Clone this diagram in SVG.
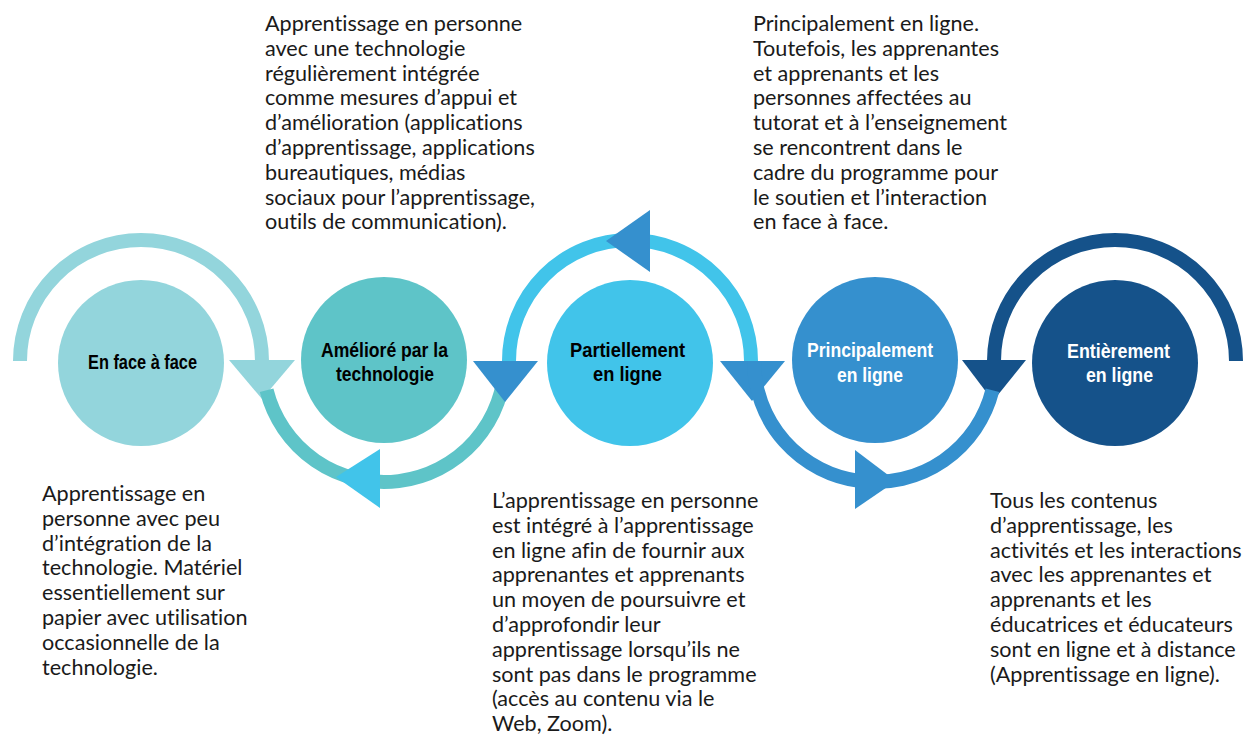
<svg xmlns="http://www.w3.org/2000/svg" width="1244" height="739" viewBox="0 0 1244 739">
<style>
.arc{fill:none;stroke-width:14;stroke-linecap:butt}
.lbl{font-family:"Liberation Sans",Arial,sans-serif;font-weight:bold;font-size:21px;text-anchor:middle}
.dark{fill:#000}
.light{fill:#fff}
.body{font-family:Lato,"Liberation Sans",sans-serif;font-size:21.6px;fill:#1a1a1a;font-variant-ligatures:none;font-feature-settings:"liga" 0,"clig" 0,"dlig" 0}
.c1{fill:#93D5DC}.c2{fill:#5EC4C8}.c3{fill:#41C4EA}.c4{fill:#3590CE}.c5{fill:#15528A}
.s1{stroke:#93D5DC}.s2{stroke:#5EC4C8}.s3{stroke:#41C4EA}.s4{stroke:#3590CE}.s5{stroke:#15528A}
</style>
<rect width="1244" height="739" fill="#fff"/>
<g id="connectors">
<path class="arc s1" d="M 20 361 A 121 121 0 0 1 262 361"/>
<polygon class="c1" points="229,360 295,360 262,399"/>
<path class="arc s2" d="M 266.6 390.3 A 121 121 0 0 0 505 361"/>
<path class="arc s3" d="M 509 361 A 121 121 0 0 1 751 361"/>
<path class="arc s5" d="M 994 361 A 121 121 0 0 1 1236 361"/>
<polygon class="c3" points="380,449 380,508 336,477"/>
<polygon class="c4" points="473,361 538,361 505,402"/>
<polygon class="c4" points="650,210 650,272 606,241"/>
<polygon class="c4" points="720,361 785,361 752,401"/>
<polygon class="c5" points="962,360 1026,360 993,401"/>
<path class="arc s4" d="M 754 361 A 121 121 0 0 0 992.4 390.3"/>
<polygon class="c4" points="855,450 855,509 896,481"/>
</g>
<g id="node-face">
<circle class="c1" cx="141" cy="363" r="83"/>
<text class="lbl dark" x="142.5" y="369" textLength="109" lengthAdjust="spacingAndGlyphs">En face à face</text>
</g>
<g id="node-ameliore">
<circle class="c2" cx="384" cy="360" r="83"/>
<text class="lbl dark" x="384.5" y="357" textLength="127" lengthAdjust="spacingAndGlyphs">Amélioré par la</text>
<text class="lbl dark" x="385" y="381" textLength="98" lengthAdjust="spacingAndGlyphs">technologie</text>
</g>
<g id="node-partiel">
<circle class="c3" cx="630" cy="363" r="83"/>
<text class="lbl dark" x="627.5" y="357" textLength="115" lengthAdjust="spacingAndGlyphs">Partiellement</text>
<text class="lbl dark" x="627.5" y="381" textLength="69" lengthAdjust="spacingAndGlyphs">en ligne</text>
</g>
<g id="node-principal">
<circle class="c4" cx="875" cy="360" r="83"/>
<text class="lbl light" x="870" y="357" textLength="126" lengthAdjust="spacingAndGlyphs">Principalement</text>
<text class="lbl light" x="870" y="382" textLength="66" lengthAdjust="spacingAndGlyphs">en ligne</text>
</g>
<g id="node-entier">
<circle class="c5" cx="1115" cy="363" r="83"/>
<text class="lbl light" x="1118.5" y="358" textLength="103" lengthAdjust="spacingAndGlyphs">Entièrement</text>
<text class="lbl light" x="1119.5" y="382" textLength="67" lengthAdjust="spacingAndGlyphs">en ligne</text>
</g>
<g id="text-ameliore" class="body">
<text x="265" y="31">Apprentissage en personne</text>
<text x="265" y="55.8">avec une technologie</text>
<text x="265" y="80.6">régulièrement intégrée</text>
<text x="265" y="105.4">comme mesures d’appui et</text>
<text x="265" y="130.2">d’amélioration (applications</text>
<text x="265" y="155">d’apprentissage, applications</text>
<text x="265" y="179.8">bureautiques, médias</text>
<text x="265" y="204.6">sociaux pour l’apprentissage,</text>
<text x="265" y="229.4">outils de communication).</text>
</g>
<g id="text-principal" class="body">
<text x="753" y="31">Principalement en ligne.</text>
<text x="753" y="55.8">Toutefois, les apprenantes</text>
<text x="753" y="80.6">et apprenants et les</text>
<text x="753" y="105.4">personnes affectées au</text>
<text x="753" y="130.2">tutorat et à l’enseignement</text>
<text x="753" y="155">se rencontrent dans le</text>
<text x="753" y="179.8">cadre du programme pour</text>
<text x="753" y="204.6">le soutien et l’interaction</text>
<text x="753" y="229.4">en face à face.</text>
</g>
<g id="text-face" class="body">
<text x="42" y="501">Apprentissage en</text>
<text x="42" y="525.8">personne avec peu</text>
<text x="42" y="550.6">d’intégration de la</text>
<text x="42" y="575.4">technologie. Matériel</text>
<text x="42" y="600.2">essentiellement sur</text>
<text x="42" y="625">papier avec utilisation</text>
<text x="42" y="649.8">occasionnelle de la</text>
<text x="42" y="674.6">technologie.</text>
</g>
<g id="text-partiel" class="body">
<text x="492" y="508">L’apprentissage en personne</text>
<text x="492" y="532.8">est intégré à l’apprentissage</text>
<text x="492" y="557.6">en ligne afin de fournir aux</text>
<text x="492" y="582.4">apprenantes et apprenants</text>
<text x="492" y="607.2">un moyen de poursuivre et</text>
<text x="492" y="632">d’approfondir leur</text>
<text x="492" y="656.8">apprentissage lorsqu’ils ne</text>
<text x="492" y="681.6">sont pas dans le programme</text>
<text x="492" y="706.4">(accès au contenu via le</text>
<text x="492" y="731.2">Web, Zoom).</text>
</g>
<g id="text-entier" class="body">
<text x="990" y="508">Tous les contenus</text>
<text x="990" y="532.8">d’apprentissage, les</text>
<text x="990" y="557.6">activités et les interactions</text>
<text x="990" y="582.4">avec les apprenantes et</text>
<text x="990" y="607.2">apprenants et les</text>
<text x="990" y="632">éducatrices et éducateurs</text>
<text x="990" y="656.8">sont en ligne et à distance</text>
<text x="990" y="681.6">(Apprentissage en ligne).</text>
</g>
</svg>
